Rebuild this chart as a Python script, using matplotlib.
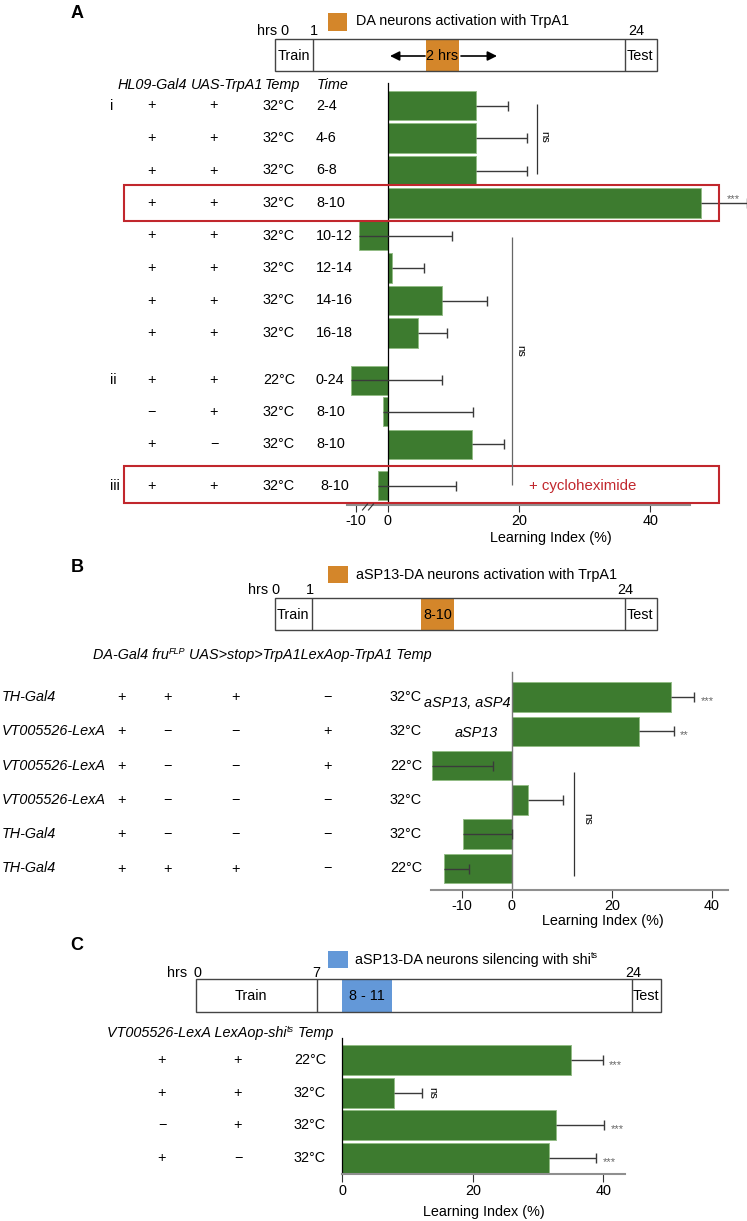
import numpy as np
import matplotlib
matplotlib.use('Agg')
import matplotlib.pyplot as plt
from matplotlib.patches import Rectangle

plt.rcParams['font.family'] = ['Liberation Sans', 'DejaVu Sans']
plt.rcParams['axes.unicode_minus'] = False

MINUS = '\u2212'
FS = 10.4

# ------------------------- data -------------------------
# Panel A
a_group = ['i', '', '', '', '', '', '', '', 'ii', '', '', 'iii']
a_gal4 = ['+'] * 8 + ['+', MINUS, '+', '+']
a_uas = ['+'] * 8 + ['+', '+', MINUS, '+']
a_temp = ['32°C'] * 8 + ['22°C', '32°C', '32°C', '32°C']
a_time = ['2-4', '4-6', '6-8', '8-10', '10-12', '12-14', '14-16', '16-18',
          '0-24', '8-10', '8-10', '8-10']
a_li = [13.5, 13.5, 13.5, 47.7, -4.4, 0.7, 8.25, 4.7, -5.55, -0.73, 12.8, -1.4]
a_sem = [4.9, 7.7, 7.7, 7.0, 14.2, 4.9, 6.85, 4.4, 13.8, 13.7, 5.0, 11.9]
a_ticklabels = ['-10', '0', '20', '40']

# Panel B
b_driver = ['TH-Gal4', 'VT005526-LexA', 'VT005526-LexA', 'VT005526-LexA',
            'TH-Gal4', 'TH-Gal4']
b_c1 = ['+', '+', '+', '+', '+', '+']
b_c2 = ['+', MINUS, MINUS, MINUS, MINUS, '+']
b_c3 = ['+', MINUS, MINUS, MINUS, MINUS, '+']
b_c4 = [MINUS, '+', '+', MINUS, MINUS, MINUS]
b_temp = ['32°C', '32°C', '22°C', '32°C', '32°C', '22°C']
b_li = [31.8, 25.5, -16.0, 3.3, -9.8, -13.5]
b_sem = [4.7, 7.0, 12.3, 7.0, 9.8, 5.0]
b_ticks = [-10, 0, 20, 40]

# Panel C
c_lexa = ['+', '+', MINUS, '+']
c_shi = ['+', '+', '+', MINUS]
c_temp = ['22°C', '32°C', '32°C', '32°C']
c_li = [35.0, 8.0, 32.7, 31.7]
c_sem = [5.0, 4.3, 7.5, 7.2]
c_ticks = [0, 20, 40]

# ------------------------- style -------------------------
W, H = 747, 1221
GREEN = '#3d7b2f'
BAR_EDGE = '#93bd86'
ERR = '#3a3a3a'
RED = '#c1272d'
ORANGE = '#d4862a'
BLUE = '#6398d8'
AXGRAY = '#8f8f8f'

fig = plt.figure(figsize=(W / 100, H / 100), dpi=100)


def px_axes(l, r, t, b, x0, ppu, y0, rowpx):
    ax = fig.add_axes([l / W, 1 - b / H, (r - l) / W, (b - t) / H])
    ax.set_xlim((l - x0) / ppu, (r - x0) / ppu)
    ax.set_ylim((b - y0) / rowpx, (t - y0) / rowpx)
    ax.patch.set_visible(False)
    for s in ['top', 'right']:
        ax.spines[s].set_visible(False)
    ax.spines['left'].set_position(('data', 0))
    ax.spines['bottom'].set_color(AXGRAY)
    ax.spines['bottom'].set_linewidth(1.5)
    ax.tick_params(axis='y', left=False, labelleft=False)
    ax.tick_params(axis='x', labelsize=FS, color='#333333', width=0.8, pad=1.5)
    return ax


def draw_bars(ax, pos, vals, errs, h):
    ax.barh(pos, vals, height=h, color=GREEN, edgecolor=BAR_EDGE,
            linewidth=0.7, zorder=2, clip_on=False)
    eb = ax.errorbar(vals, pos, xerr=[np.zeros(len(vals)), errs], fmt='none',
                     ecolor=ERR, elinewidth=1.0, capsize=3.3, capthick=1.0,
                     zorder=3)
    _, caplines, barcols = eb.lines
    caplines[0].set_visible(False)
    for c in caplines:
        c.set_clip_on(False)
    for bc in barcols:
        bc.set_clip_on(False)


# ---- Panel A chart ----
A_X0, A_PPU, A_Y0, A_ROW = 387.5, 6.57, 105.5, 32.5
a_pos = [0, 1, 2, 3, 4, 5, 6, 7, 8.45, 9.42, 10.42, 11.7]
axA = px_axes(330, 747, 83, 505, A_X0, A_PPU, A_Y0, A_ROW)
draw_bars(axA, a_pos, a_li, a_sem, 0.9)
axA.spines['bottom'].set_bounds((347 - A_X0) / A_PPU, (690 - A_X0) / A_PPU)
axA.spines['left'].set_linewidth(0.9)
axA.set_xticks([(355.5 - A_X0) / A_PPU, 0, 20, 40], a_ticklabels)
axA.tick_params(axis='x', length=4.8)

# ---- Panel B chart ----
B_X0, B_PPU, B_Y0, B_ROW = 511.7, 5.0, 697, 34.3
b_pos = list(range(len(b_li)))
axB = px_axes(425, 747, 672, 890, B_X0, B_PPU, B_Y0, B_ROW)
draw_bars(axB, b_pos, b_li, b_sem, 0.86)
axB.spines['bottom'].set_bounds((431 - B_X0) / B_PPU, (728 - B_X0) / B_PPU)
axB.spines['left'].set_color('#777777')
axB.spines['left'].set_linewidth(1.0)
axB.set_xticks(b_ticks)
axB.tick_params(axis='x', length=5.8, pad=0.5)

# ---- Panel C chart ----
C_X0, C_PPU, C_Y0, C_ROW = 342.3, 6.52, 1060, 32.6
c_pos = list(range(len(c_li)))
axC = px_axes(330, 747, 1038, 1174, C_X0, C_PPU, C_Y0, C_ROW)
draw_bars(axC, c_pos, c_li, c_sem, 0.92)
axC.spines['bottom'].set_bounds(0, (625 - C_X0) / C_PPU)
axC.spines['left'].set_linewidth(0.9)
axC.set_xticks(c_ticks)
axC.tick_params(axis='x', length=5.8)

# ------------------------- overlay (pixel coordinates) -------------------------
ov = fig.add_axes([0, 0, 1, 1], zorder=10)
ov.set_xlim(0, W)
ov.set_ylim(H, 0)
ov.axis('off')
renderer = fig.canvas.get_renderer()


def T(x, y, s, **kw):
    kw.setdefault('fontsize', FS)
    kw.setdefault('va', 'center')
    kw.setdefault('ha', 'left')
    return ov.text(x, y, s, **kw)


def rich(x, y, parts, **kw):
    cx = x
    for s, sup in parts:
        if sup:
            t = T(cx, y - 4, s, fontsize=6.5, **kw)
        else:
            t = T(cx, y, s, **kw)
        cx += t.get_window_extent(renderer).width


def vline(x, y0, y1, color='#333333', lw=0.9):
    ov.plot([x, x], [y0, y1], color=color, lw=lw, solid_capstyle='butt')


def timeline(x0, x1, y0, y1, d1, d2, hx0, hx1, hcolor, htext, train_c, test_c):
    ym = (y0 + y1) / 2 + 1
    ov.add_patch(Rectangle((hx0, y0), hx1 - hx0, y1 - y0, facecolor=hcolor,
                           edgecolor='none', zorder=1))
    ov.add_patch(Rectangle((x0, y0), x1 - x0, y1 - y0, facecolor='none',
                           edgecolor='#444444', lw=1.0, zorder=2))
    vline(d1, y0, y1, color='#444444', lw=1.0)
    vline(d2, y0, y1, color='#444444', lw=1.0)
    T((hx0 + hx1) / 2, ym, htext, ha='center', zorder=3)
    T(train_c, ym, 'Train', ha='center')
    T(test_c, ym, 'Test', ha='center')


# ---- Panel letters ----
for lab, (x, y) in zip('ABC', [(77, 14), (77, 568), (77, 945)]):
    T(x, y, lab, ha='center', fontsize=13, fontweight='bold')

# ---- Panel A timeline & legend ----
ov.add_patch(Rectangle((328, 13), 19, 18, facecolor=ORANGE, edgecolor='none'))
T(356, 21, 'DA neurons activation with TrpA1')
T(257, 31, 'hrs 0')
T(314, 31, '1', ha='center')
T(636, 31, '24', ha='center')
timeline(275, 657, 39, 71, 312.5, 625, 426, 459, ORANGE, '2 hrs', 293.7, 640)
arrow_kw = dict(arrowstyle='-|>', color='black', lw=1.2, mutation_scale=14,
                shrinkA=0, shrinkB=0)
ov.annotate('', xy=(390, 56), xytext=(425, 56), arrowprops=arrow_kw)
ov.annotate('', xy=(497, 56), xytext=(461, 56), arrowprops=arrow_kw)

# ---- Panel A table ----
hdr_kw = dict(style='italic')
T(118, 85, 'HL09-Gal4', **hdr_kw)
T(191, 85, 'UAS-TrpA1', **hdr_kw)
T(265, 85, 'Temp', **hdr_kw)
T(317, 85, 'Time', **hdr_kw)
for p, g, c1, c2, tp, tm in zip(a_pos, a_group, a_gal4, a_uas, a_temp, a_time):
    y = A_Y0 + p * A_ROW
    if g:
        T(110, y, g)
    T(151, y, c1, ha='center')
    T(214, y, c2, ha='center')
    T(279, y, tp, ha='center')
    T(316 if g != 'iii' else 320, y, tm)

# red boxes and cycloheximide
ov.add_patch(Rectangle((124, 185), 595, 36, facecolor='none', edgecolor=RED, lw=1.5))
ov.add_patch(Rectangle((124, 466), 595, 36.5, facecolor='none', edgecolor=RED, lw=1.5))
T(529, 486, '+ cycloheximide', color=RED, fontsize=10.8)

# significance A
vline(536.7, 104, 174)
T(544, 137, 'ns', rotation=-90, fontsize=8, ha='center')
vline(512.3, 237, 485, color='#666666')
T(520, 351, 'ns', rotation=-90, fontsize=8, ha='center')
T(733, 199, '***', fontsize=8, color='#666666', ha='center')

# axis break marks and x label A
ov.plot([362.5, 367.5], [510, 504], color='#333333', lw=0.8)
ov.plot([368.5, 373.5], [510, 504], color='#333333', lw=0.8)
T(551, 538, 'Learning Index (%)', ha='center')

# ---- Panel B timeline & legend ----
ov.add_patch(Rectangle((328, 566), 20, 17, facecolor=ORANGE, edgecolor='none'))
T(356, 575, 'aSP13-DA neurons activation with TrpA1')
T(248, 590, 'hrs 0')
T(310, 590, '1', ha='center')
T(625.5, 590, '24', ha='center')
timeline(275, 657, 598, 630, 312, 625, 421, 454, ORANGE, '8-10', 293.3, 639.5)

# ---- Panel B table ----
rich(93, 655, [('DA-Gal4 fru', False), ('FLP', True),
               (' UAS>stop>TrpA1LexAop-TrpA1 Temp', False)], style='italic')
for p, d, c1, c2, c3, c4, tp in zip(b_pos, b_driver, b_c1, b_c2, b_c3, b_c4, b_temp):
    y = B_Y0 + p * B_ROW
    T(2, y, d, style='italic')
    T(122, y, c1, ha='center')
    T(167, y, c2, ha='center')
    T(235, y, c3, ha='center')
    T(327, y, c4, ha='center')
    T(406, y, tp, ha='center')
T(511, 703, 'aSP13, aSP4', style='italic', ha='right')
T(476, 733, 'aSP13', style='italic', ha='center')

vline(574, 772, 876)
T(587, 819, 'ns', rotation=-90, fontsize=8, ha='center')
T(707.5, 701, '***', fontsize=8, color='#666666', ha='center')
T(684, 735, '**', fontsize=8, color='#666666', ha='center')
T(603, 921, 'Learning Index (%)', ha='center')

# ---- Panel C timeline & legend ----
ov.add_patch(Rectangle((327.6, 951), 20, 17, facecolor=BLUE, edgecolor='none'))
rich(355, 960, [('aSP13-DA neurons silencing with shi', False), ('ts', True)])
T(167, 973, 'hrs')
T(197.5, 973, '0', ha='center')
T(316, 973, '7', ha='center')
T(633, 973, '24', ha='center')
timeline(196, 661, 979, 1012, 316.5, 631.5, 341.5, 391.5, BLUE, '8 - 11', 251, 646)

# ---- Panel C table ----
rich(107, 1033, [('VT005526-LexA LexAop-shi', False), ('ts', True), (' Temp', False)],
     style='italic')
for p, c1, c2, tp in zip(c_pos, c_lexa, c_shi, c_temp):
    y = C_Y0 + p * C_ROW
    T(162, y, c1, ha='center')
    T(238, y, c2, ha='center')
    T(310, y, tp, ha='center')
T(432, 1093, 'ns', rotation=-90, fontsize=8, ha='center')
T(615.5, 1065, '***', fontsize=8, color='#666666', ha='center')
T(617.5, 1129, '***', fontsize=8, color='#666666', ha='center')
T(609.5, 1162, '***', fontsize=8, color='#666666', ha='center')
T(484, 1212, 'Learning Index (%)', ha='center')

fig.savefig('out.png', dpi=100)
